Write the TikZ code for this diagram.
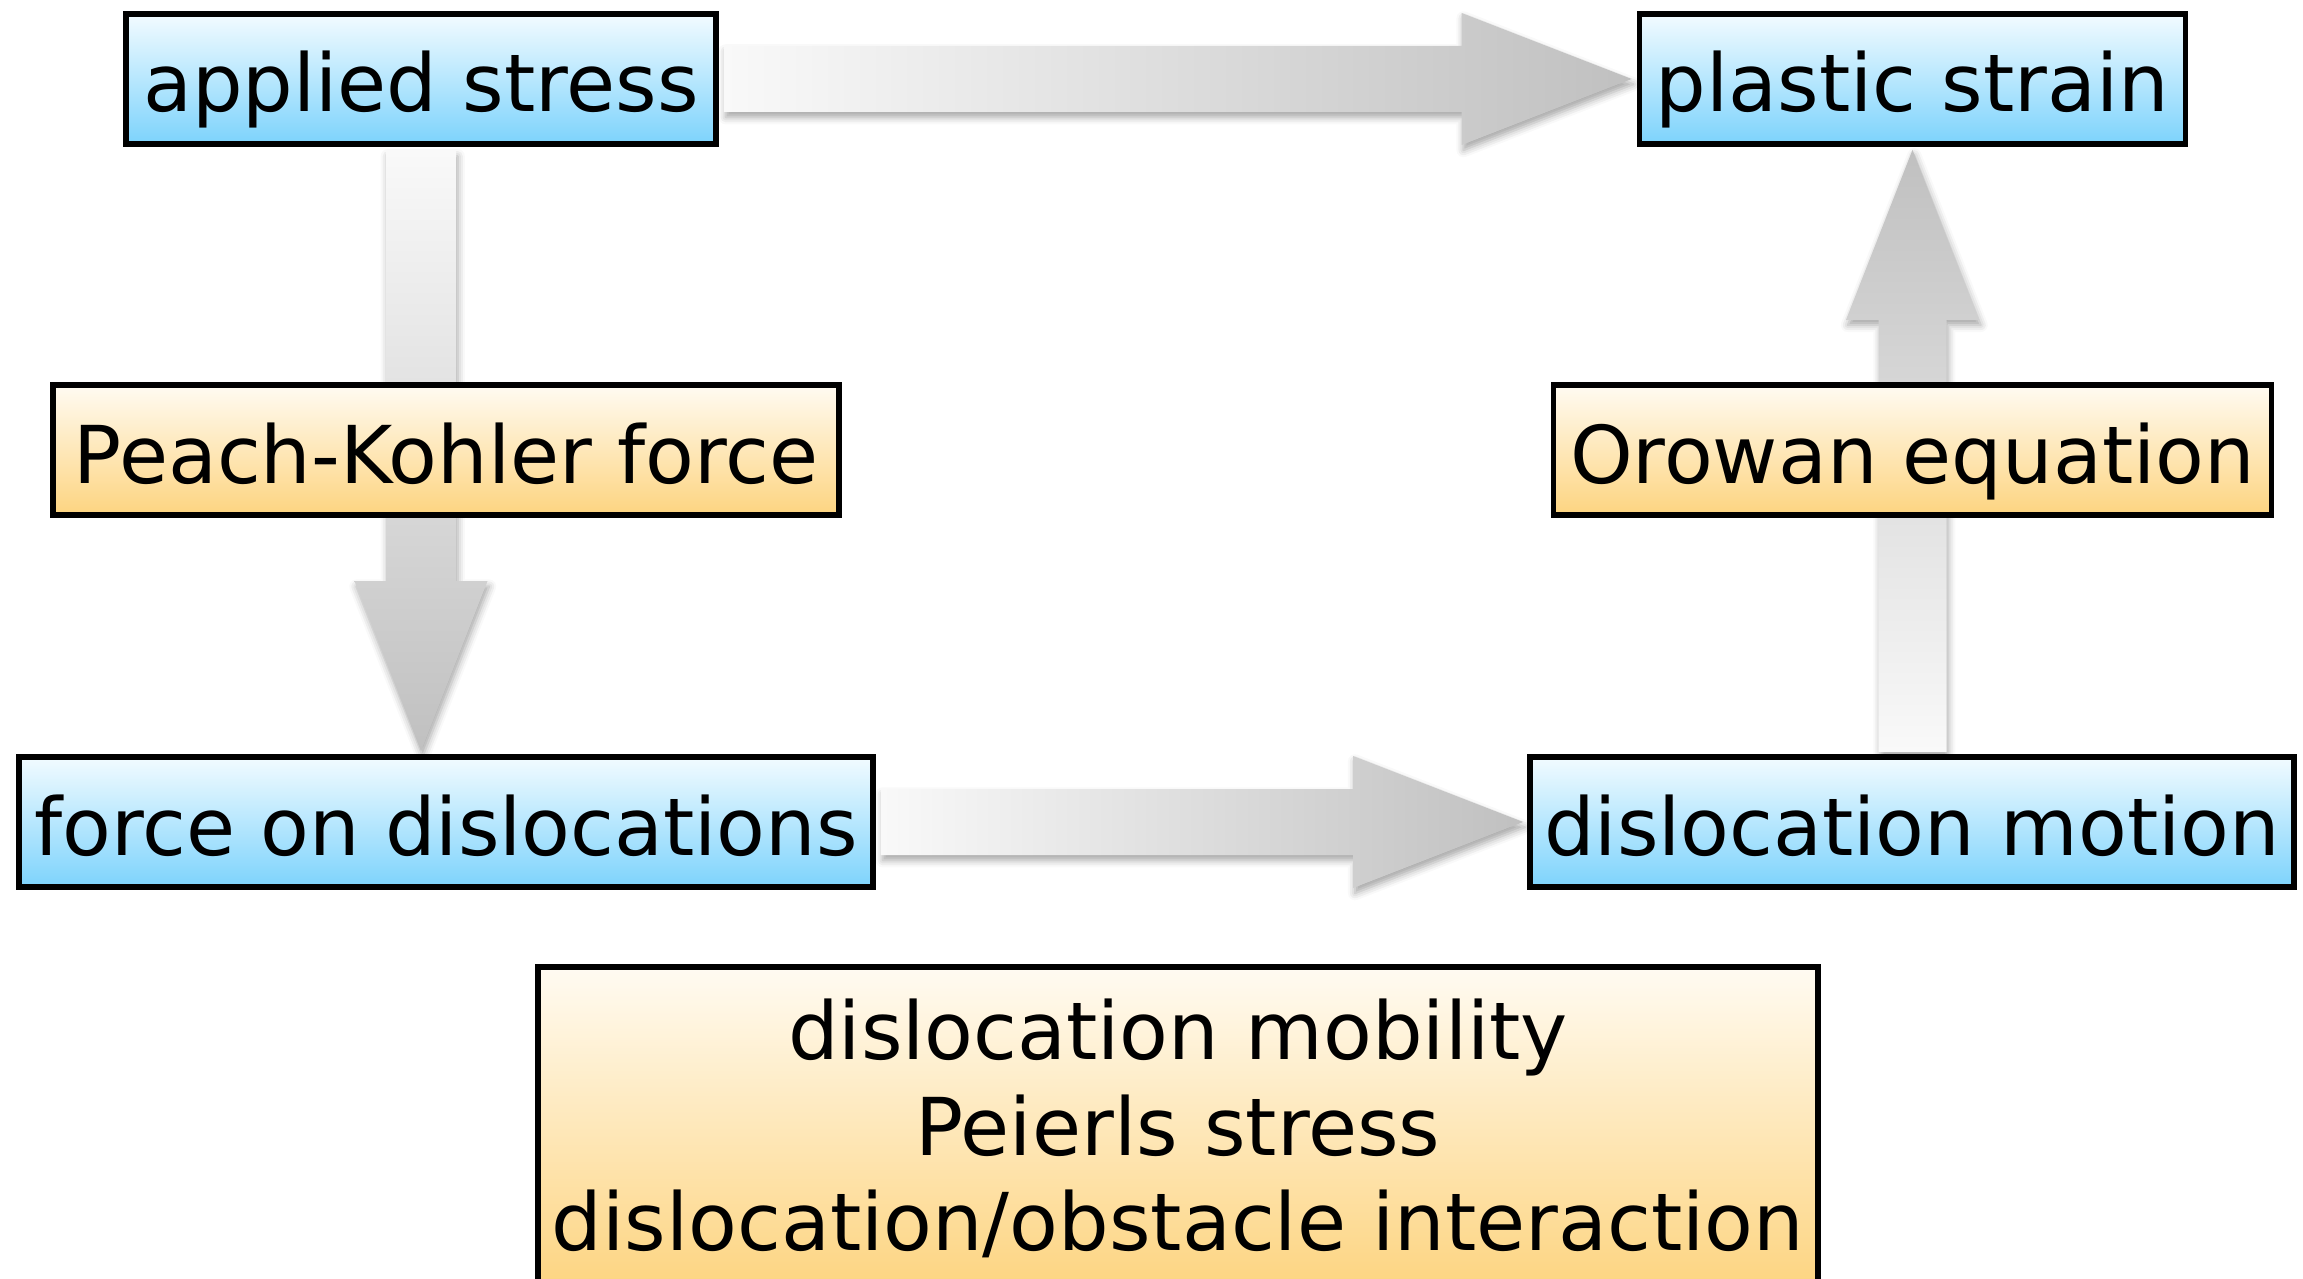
\documentclass[tikz,border=0pt]{standalone}
\usepackage{fontspec}
\setmainfont{DejaVu Sans}
\usetikzlibrary{calc,backgrounds,shadows.blur}
\definecolor{bluetop}{RGB}{242,251,255}
\definecolor{bluebot}{RGB}{125,211,252}
\definecolor{orgtop}{RGB}{255,251,242}
\definecolor{orgbot}{RGB}{253,212,128}
\definecolor{arrlight}{RGB}{249,249,249}
\definecolor{arrdark}{RGB}{192,192,192}

\begin{document}
\begin{tikzpicture}[
  bbox/.style={draw,line width=1.6pt,top color=bluetop,bottom color=bluebot,minimum height=1.3cm,
    text height=0.8cm,text depth=0.14cm,inner xsep=0pt,font=\fontsize{22.7}{27.2}\selectfont},
  obox/.style={bbox,top color=orgtop,bottom color=orgbot},
  shad/.style={blur shadow={shadow xshift=0.5pt,shadow yshift=-1.5pt,shadow blur radius=2pt,shadow opacity=35}},
  harr/.style={left color=arrlight,right color=arrdark,shad},
  darr/.style={top color=arrlight,bottom color=arrdark,shad},
  uarr/.style={bottom color=arrlight,top color=arrdark,shad}]
  \useasboundingbox (0,0) rectangle (23.03,-12.79);
  \clip (0,0) rectangle (23.03,-12.79);
  \node[bbox,minimum width=5.90cm] (stress) at (4.21,-0.79) {applied stress};
  \node[bbox,minimum width=5.46cm] (strain) at (19.125,-0.79) {plastic strain};
  \node[obox,minimum width=7.86cm] (pk) at (4.46,-4.50) {Peach-Kohler force};
  \node[obox,minimum width=7.18cm] (orowan) at (19.125,-4.50) {Orowan equation};
  \node[bbox,minimum width=8.54cm] (force) at (4.46,-8.22) {force on dislocations};
  \node[bbox,minimum width=7.64cm] (motion) at (19.12,-8.22) {dislocation motion};
  \node[obox,anchor=north,minimum width=12.80cm,text width=12.6cm,align=center,
    text height=,text depth=,inner ysep=0.32cm] (mech) at (11.78,-9.64)
    {dislocation mobility\\Peierls stress\\dislocation/obstacle interaction};
  \begin{scope}[on background layer]
  \path[harr] let \p1=($(stress.east)+(0.05,0)$), \p2=($(strain.west)-(0.05,0)$) in
    (\x1,{\y1+0.33cm}) -- ({\x2-1.7cm},{\y1+0.33cm}) -- ({\x2-1.7cm},{\y1+0.66cm}) -- (\x2,\y1)
    -- ({\x2-1.7cm},{\y1-0.66cm}) -- ({\x2-1.7cm},{\y1-0.33cm}) -- (\x1,{\y1-0.33cm}) -- cycle;
  \path[harr] let \p1=($(force.east)+(0.05,0)$), \p2=($(motion.west)-(0.04,0)$) in
    (\x1,{\y1+0.33cm}) -- ({\x2-1.7cm},{\y1+0.33cm}) -- ({\x2-1.7cm},{\y1+0.66cm}) -- (\x2,\y1)
    -- ({\x2-1.7cm},{\y1-0.66cm}) -- ({\x2-1.7cm},{\y1-0.33cm}) -- (\x1,{\y1-0.33cm}) -- cycle;
  \path[darr] let \p1=($(stress.south)-(0,0.04)$), \p2=($(stress.south |- force.north)+(0,0.03)$) in
    ({\x1-0.35cm},\y1) -- ({\x1-0.35cm},{\y2+1.7cm}) -- ({\x1-0.665cm},{\y2+1.7cm}) -- (\x1,\y2)
    -- ({\x1+0.665cm},{\y2+1.7cm}) -- ({\x1+0.35cm},{\y2+1.7cm}) -- ({\x1+0.35cm},\y1) -- cycle;
  \path[uarr] let \p1=($(strain.south |- motion.north)+(0,0.02)$), \p2=($(strain.south)-(0,0.03)$) in
    ({\x1-0.34cm},\y1) -- ({\x1-0.34cm},{\y2-1.7cm}) -- ({\x1-0.665cm},{\y2-1.7cm}) -- (\x1,\y2)
    -- ({\x1+0.665cm},{\y2-1.7cm}) -- ({\x1+0.34cm},{\y2-1.7cm}) -- ({\x1+0.34cm},\y1) -- cycle;
  \end{scope}
\end{tikzpicture}
\end{document}
